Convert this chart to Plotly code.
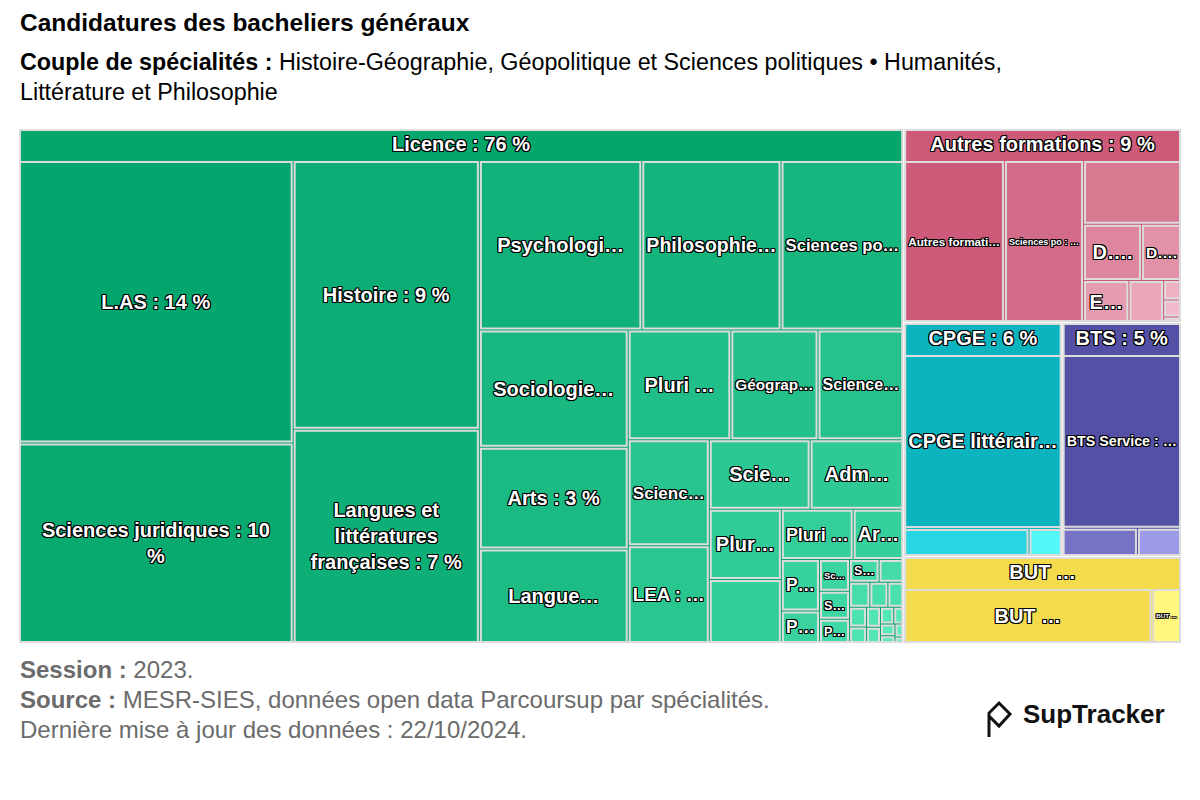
import plotly.graph_objects as go

# ---------------- data (shares of applications, %) ----------------
groups = ["Licence", "Autres formations", "CPGE", "BTS", "BUT"]
group_texts = ["Licence : 76 %", "Autres formations : 9 %", "CPGE : 6 %", "BTS : 5 %", "BUT …"]

licence_names = [
    "L.AS", "Sciences juridiques", "Histoire", "Langues et littératures françaises",
    "Psychologie", "Philosophie", "Sciences politiques", "Sociologie", "Arts",
    "Langues, littératures et civilisations étrangères", "Pluri Lettres-Langues",
    "Géographie", "Sciences de l'éducation", "Sciences sociales", "LEA",
    "Sciences de l'information et de la communication", "Administration publique",
    "Pluri Droit-Sciences humaines", "Économie et gestion", "Pluri Sciences humaines",
    "Archéologie", "Pluri Lettres", "Pluri Arts", "Sciences du langage",
    "STAPS", "Pluri Droit", "Sciences économiques", "Licence 28", "Licence 29",
    "Licence 30", "Licence 31", "Licence 32", "Licence 33", "Licence 34",
    "Licence 35", "Licence 36", "Licence 37", "Licence 38", "Licence 39",
    "Licence 40", "Licence 41",
]
licence_values = [
    13.8, 9.8, 8.9, 7.1, 4.9, 4.2, 3.7, 3.1, 2.7, 2.5, 2.0, 1.7, 1.67, 1.53,
    1.41, 1.25, 1.16, 0.9, 0.82, 0.64, 0.45, 0.35, 0.22, 0.17, 0.15, 0.13,
    0.12, 0.10, 0.09, 0.08, 0.07, 0.06, 0.05, 0.05, 0.04, 0.04, 0.03, 0.03,
    0.02, 0.02, 0.01,
]
licence_texts = [
    "L.AS : 14 %", "Sciences juridiques : 10<br>%", "Histoire : 9 %",
    "Langues et<br>littératures<br>françaises : 7 %", "Psychologi…", "Philosophie…",
    "Sciences po…", "Sociologie…", "Arts : 3 %", "Langue…", "Pluri …", "Géograp…",
    "Science…", "Scienc…", "LEA : …", "Scie…", "Adm…", "Plur…", "", "Pluri …",
    "Ar…", "P…", "P…", "Sc…", "S…", "P…", "S…", "", "", "", "", "", "", "",
    "", "", "", "", "", "", "",
]

autres_names = [
    "Autres formations", "Sciences po / IEP", "Écoles de commerce", "DN MADE",
    "DEUST", "Écoles d'ingénieurs", "Autres 7", "Autres 8", "Autres 9", "Autres 10",
]
autres_values = [3.26, 2.56, 1.25, 0.65, 0.45, 0.38, 0.29, 0.07, 0.06, 0.02]
autres_texts = ["Autres formati…", "Sciences po : …", "", "D….", "D….", "E…", "", "", "", ""]

cpge_names = ["CPGE littéraire", "CPGE économique", "CPGE scientifique"]
cpge_values = [5.33, 0.68, 0.18]
cpge_texts = ["CPGE littérair…", "", ""]

bts_names = ["BTS Service", "BTS Production", "BTS Autres"]
bts_values = [4.01, 0.41, 0.24]
bts_texts = ["BTS Service : …", "", ""]

but_names = ["BUT Service", "BUT Production"]
but_values = [3.60, 0.43]
but_texts = ["BUT …", "BUT …"]

# ---------------- styling ----------------
def hex2rgb(h):
    h = h.lstrip("#")
    return tuple(int(h[i:i + 2], 16) for i in (0, 2, 4))

def ramp(c0, c1, n, gamma=1.0):
    a, b = hex2rgb(c0), hex2rgb(c1)
    out = []
    for i in range(n):
        t = (i / (n - 1)) ** gamma if n > 1 else 0
        out.append("rgb(%d,%d,%d)" % tuple(round(a[k] + (b[k] - a[k]) * t) for k in range(3)))
    return out

group_colors = ["#04a66c", "#cc5a78", "#0bb4bf", "#5450a6", "#f4db4c"]
child_colors = [
    ramp("#03a66c", "#5cefc0", len(licence_values), 0.8),
    ramp("#cc5a78", "#f6c4d2", len(autres_values), 0.8),
    ["#0bb4bf", "#27d6e1", "#52f7f9"],
    ["#5450a6", "#7672c6", "#9e9aea"],
    ["#f4db4c", "#fff77e"],
]

children = [
    (licence_names, licence_values, licence_texts),
    (autres_names, autres_values, autres_texts),
    (cpge_names, cpge_values, cpge_texts),
    (bts_names, bts_values, bts_texts),
    (but_names, but_values, but_texts),
]

ids, labels, parents, values, texts, colors = [], [], [], [], [], []
for g, gt, gc, (names, vals, txts), cc in zip(groups, group_texts, group_colors, children, child_colors):
    ids.append(g); labels.append(gt); parents.append(""); values.append(sum(vals))
    texts.append(gt); colors.append(gc)
    for n, v, t, c in zip(names, vals, txts, cc):
        ids.append(g + "/" + n); labels.append(n); parents.append(g)
        values.append(v); texts.append(t); colors.append(c)

FONT = "Liberation Sans, Arial, Helvetica, sans-serif"
OUTLINE = ("-1px -1px 0 #000, 1px -1px 0 #000, -1px 1px 0 #000, 1px 1px 0 #000, "
           "0 -1px 0 #000, 0 1px 0 #000, -1px 0 0 #000, 1px 0 0 #000")
LABEL_FONT = dict(family=FONT, size=20, color="white", weight="bold", shadow=OUTLINE)

HEADER = 32
fig = go.Figure(go.Treemap(
    ids=ids, labels=labels, parents=parents, values=values, text=texts,
    branchvalues="total", sort=True,
    texttemplate="%{text}", textposition="middle center",
    textfont=LABEL_FONT, insidetextfont=LABEL_FONT, outsidetextfont=LABEL_FONT,
    marker=dict(colors=colors, line=dict(color="#dcdcdc", width=2),
                pad=dict(t=HEADER, l=0, r=0, b=0)),
    pathbar=dict(visible=False),
    hoverinfo="label+value",
))

# page geometry (the html body adds an 8 px margin)
OFF = 8
W, H = 1184, 784
X0, X1, Y0, Y1 = 20, 1180, 130 - HEADER, 642
PW, PH = X1 - X0, Y1 - Y0

def px(x):
    return (x - X0) / PW

def py(y):
    return (Y1 - y) / PH

ann = []
def add_text(x, y, s, size, color, anchor="left"):
    ann.append(dict(x=px(x), y=py(y), xref="paper", yref="paper", text=s, showarrow=False,
                    xanchor=anchor, yanchor="middle", align="left",
                    font=dict(family=FONT, size=size, color=color)))

add_text(18, 23, "<b>Candidatures des bacheliers généraux</b>", 24.5, "#000000")
add_text(18, 62, "<b>Couple de spécialités :</b> Histoire-Géographie, Géopolitique et Sciences politiques • Humanités,", 23.3, "#000000")
add_text(18, 92, "Littérature et Philosophie", 23.3, "#000000")
add_text(18, 669, "<b>Session :</b> 2023.", 24, "#6b6b6b")
add_text(18, 699, "<b>Source :</b> MESR-SIES, données open data Parcoursup par spécialités.", 24, "#6b6b6b")
add_text(18, 729, "Dernière mise à jour des données : 22/10/2024.", 24, "#6b6b6b")
add_text(1021, 714, "<b>SupTracker</b>", 26, "#111111")

logo = [(989, 737), (989, 713), (999, 703), (1010, 714), (999, 726), (989, 716)]
path = "M " + " L ".join("%f %f" % (px(a), py(b)) for a, b in logo)

fig.update_layout(
    width=W, height=H,
    margin=dict(l=X0 - OFF, r=W + OFF - X1, t=Y0 - OFF, b=H + OFF - Y1),
    paper_bgcolor="white", plot_bgcolor="white",
    font=dict(family=FONT),
    annotations=ann,
    shapes=[dict(type="path", path=path, xref="paper", yref="paper",
                 line=dict(color="#111111", width=3))],
)

fig.write_html("out.html")
